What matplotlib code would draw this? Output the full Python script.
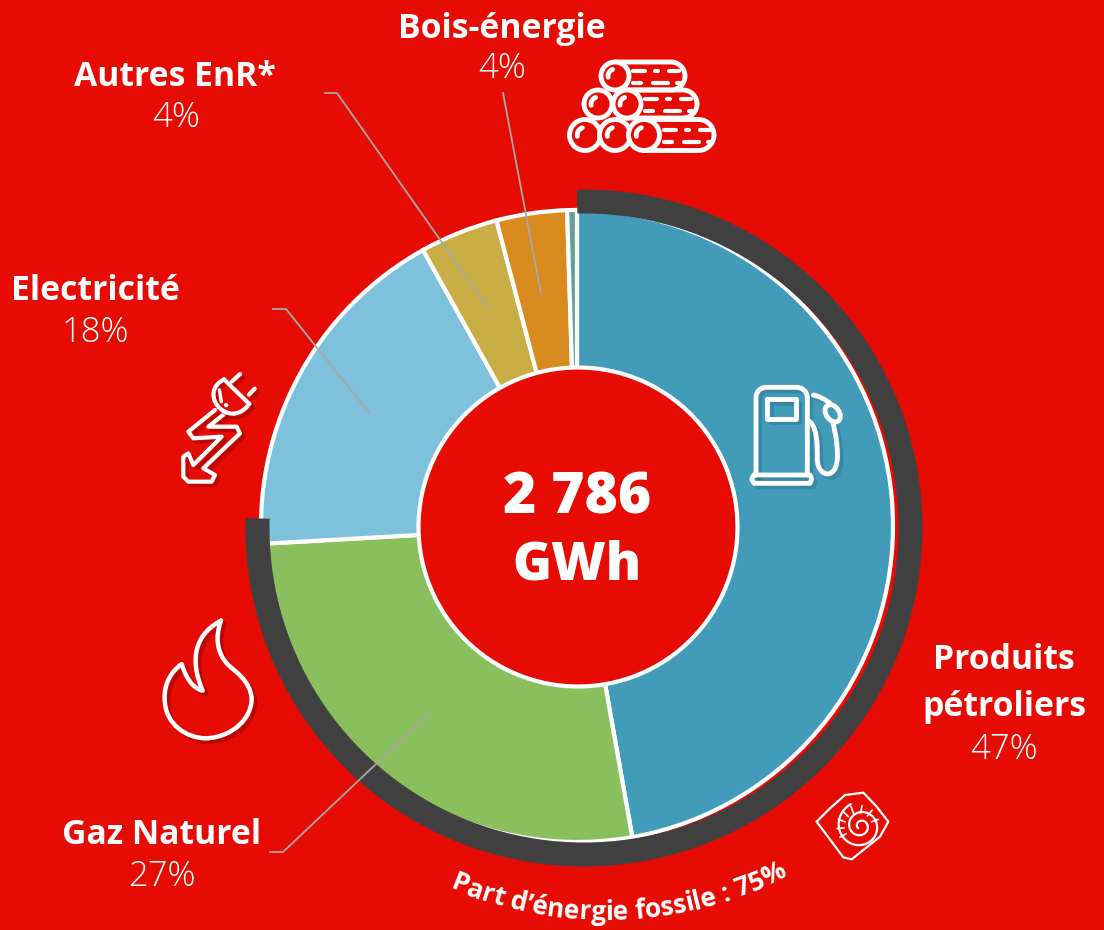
import numpy as np
import matplotlib
matplotlib.use("Agg")
import matplotlib.pyplot as plt
import matplotlib.patheffects as pe
from matplotlib.patches import Wedge, Circle, PathPatch, Ellipse
from matplotlib.path import Path

# Parts (%)
categories = ["Produits pétroliers", "Gaz Naturel", "Electricité", "Autres EnR*", "Bois-énergie", "Autres"]
valeurs = [47.2, 26.9, 17.8, 4.0, 3.6, 0.5]
couleurs = ["#419BB9", "#8ABF5E", "#7DC1DC", "#C8AE44", "#D98B1F", "#6A9E9E"]
part_fossile = 75.8
total = "2 786\nGWh"

ROUGE = "#E60C04"
GRIS = "#404040"
BLANC = "white"
H = 930

plt.rcParams['font.family'] = ['Open Sans', 'DejaVu Sans']

fig = plt.figure(figsize=(11.04, 9.30), dpi=100, facecolor=ROUGE)
ax = fig.add_axes([0, 0, 1, 1])


def Y(y):
    return H - y


#---Donut------------
ax.pie(valeurs, colors=couleurs, startangle=90, counterclock=False,
       center=(577, Y(526)), radius=316, frame=True,
       wedgeprops=dict(edgecolor=BLANC, linewidth=3))
ax.add_patch(Circle((578, Y(527)), 159.5, facecolor=ROUGE, edgecolor=BLANC, linewidth=3, zorder=3))
ax.set_xlim(0, 1104)
ax.set_ylim(0, H)
ax.set_aspect('equal')
ax.axis('off')

# Arc de la part fossile
fin = 91.2 + 360
ax.add_patch(Wedge((584, Y(528)), 338.5, fin - 3.6 * part_fossile, fin, width=24,
                   facecolor=GRIS, edgecolor='none', zorder=4))

#---Lignes de rappel------------
for xs, ys in [([503, 541], [93, 294]),
               ([325, 337, 488], [93, 93, 308]),
               ([273, 286, 370], [309, 309, 414]),
               ([270, 283, 430], [852, 852, 713])]:
    ax.plot(xs, [Y(v) for v in ys], color="#A8A8A8", linewidth=1.3, zorder=5)

#---Textes------------
for x, y, txt in [(502, 29, "Bois-énergie"), (175, 77, "Autres EnR*"), (95, 291, "Electricité"),
                  (1004, 660, "Produits"), (1004, 707, "pétroliers"), (162, 835, "Gaz Naturel")]:
    ax.text(x, Y(y), txt, color=BLANC, fontsize=24.3, fontweight='bold', ha='center', va='center', zorder=6)
for x, y, txt in [(502, 69, "4%"), (176, 118, "4%"), (95, 333, "18%"), (1004, 750, "47%"), (162, 877, "27%")]:
    ax.text(x, Y(y), txt, color=BLANC, fontsize=25, fontweight='light', ha='center', va='center', zorder=6)
lignes = total.split("\n")
ax.text(577, Y(499), lignes[0], color=BLANC, fontsize=41, fontweight='heavy', ha='center', va='center', zorder=6)
ax.text(577, Y(566), lignes[1], color=BLANC, fontsize=38, fontweight='heavy', ha='center', va='center', zorder=6)

# Texte courbe, lettre par lettre
texte = "Part d’énergie fossile : 75%"
taille = 19
rend = fig.canvas.get_renderer()
largeurs = []
for i in range(len(texte)):
    t = ax.text(0, 0, texte[:i + 1] + "|", fontsize=taille, fontweight='bold')
    largeurs.append(t.get_window_extent(rend).width)
    t.remove()
t = ax.text(0, 0, "|", fontsize=taille, fontweight='bold')
barre = t.get_window_extent(rend).width
t.remove()
fins = np.array(largeurs) - barre
debuts = np.concatenate(([0], fins[:-1]))
cx, cy, r = 605, Y(524), 396
milieu = fins[-1] / 2
for c, d, f in zip(texte, debuts, fins):
    a = ((d + f) / 2 - milieu) / r + 0.038
    ax.text(cx + r * np.sin(a), cy - r * np.cos(a), c, color=BLANC, fontsize=taille, fontweight='bold',
            rotation=np.degrees(a), rotation_mode='anchor', ha='center', va='baseline', zorder=6)

#---Icônes------------
ombre = [pe.SimpleLineShadow(offset=(2.5, -2.5), shadow_color="#8A0000", alpha=0.45), pe.Normal()]


def trait(xs, ys, lw=3, effets=None, z=7):
    ax.plot(xs, [Y(v) for v in ys], color=BLANC, linewidth=lw, solid_capstyle='round',
            solid_joinstyle='round', path_effects=effets, zorder=z)


def courbe(points, lw=3, effets=None, z=7):
    # points : premier point puis triplets de controle (bezier cubique)
    codes = [Path.MOVETO] + [Path.CURVE4] * (len(points) - 1)
    sommets = [(x, Y(y)) for x, y in points]
    p = PathPatch(Path(sommets, codes), facecolor='none', edgecolor=BLANC, linewidth=lw,
                  capstyle='round', joinstyle='round', zorder=z)
    if effets:
        p.set_path_effects(effets)
    ax.add_patch(p)


# Bûches
for yc, r_b, xs_c, x_fin in [(76, 14, [615], 685), (104, 14, [598, 627], 697), (135, 15.5, [585, 615, 644], 714)]:
    a = np.linspace(np.pi / 2, -np.pi / 2, 30)
    xb = [xs_c[-1]] + list(x_fin - r_b + r_b * np.cos(a)) + [xs_c[-1]]
    yb = [yc - r_b] + list(yc - r_b * np.sin(a)) + [yc + r_b]
    trait(xb, yb, lw=3.5)
    for xc in xs_c:
        ax.add_patch(Circle((xc, Y(yc)), r_b, facecolor=ROUGE, edgecolor=BLANC, linewidth=3.5, zorder=8))
        a2 = np.linspace(np.radians(110), np.radians(190), 10)
        trait(xc + r_b * 0.5 * np.cos(a2), yc - r_b * 0.5 * np.sin(a2), lw=3.5, z=9)
    x0 = xs_c[-1] + r_b + 4
    trait([x0, x0 + 12], [yc - 5, yc - 5], z=7)
    trait([x0 + 22, x0 + 25], [yc - 5, yc - 5], z=7)
    trait([x0 + 36, x0 + 46], [yc - 5, yc - 5], z=7)
    trait([x0, x0 + 8], [yc + 7, yc + 7], z=7)
    trait([x0 + 20, x0 + 35], [yc + 7, yc + 7], z=7)
    trait([x0 + 44, x0 + 47], [yc + 7, yc + 7], z=7)

# Prise électrique
X = lambda v: 150 + np.array(v) / 3
Z = lambda v: 360 + np.array(v) / 3
trait(X([195, 115, 130, 215, 130, 115, 100, 100, 115, 185, 195, 160, 270, 260, 175, 225]),
      Z([150, 215, 235, 230, 315, 280, 290, 350, 365, 365, 345, 325, 220, 200, 200, 160]), effets=ombre)
courbe([(X(222), Z(58)), (X(170), Z(85)), (X(190), Z(140)), (X(225), Z(155)),
        (X(255), Z(170)), (X(280), Z(155)), (X(298), Z(132))], effets=ombre)
trait(X([222, 298]), Z([58, 132]), effets=ombre)
trait(X([245, 270]), Z([65, 42]), effets=ombre)
trait(X([297, 314]), Z([104, 86]), effets=ombre)
trait(X([208, 214]), Z([90, 125]), lw=2.5)
trait(X([228, 229]), Z([135, 136]), lw=3)

# Flamme
courbe([(X(213), Z(782)), (X(150), Z(815)), (X(110), Z(880)), (X(158), Z(992)),
        (X(125), Z(985)), (X(105), Z(945)), (X(95), Z(912)),
        (X(50), Z(945)), (X(40), Z(990)), (X(45), Z(1030)),
        (X(50), Z(1090)), (X(105), Z(1135)), (X(170), Z(1135)),
        (X(250), Z(1130)), (X(305), Z(1075)), (X(305), Z(1015)),
        (X(300), Z(960)), (X(255), Z(935)), (X(235), Z(915)),
        (X(200), Z(880)), (X(195), Z(830)), (X(213), Z(782))], lw=3.2, effets=ombre)

# Pompe à essence
X = lambda v: 730 + np.array(v) / 3
Z = lambda v: 370 + np.array(v) / 3
sombre = [pe.SimpleLineShadow(offset=(2.5, -2.5), shadow_color="#1F5F78", alpha=0.3), pe.Normal()]
courbe([(X(78), Z(315)), (X(78), Z(220)), (X(78), Z(150)), (X(78), Z(85)),
        (X(78), Z(65)), (X(90), Z(52)), (X(110), Z(52)),
        (X(150), Z(52)), (X(170), Z(52)), (X(198), Z(52)),
        (X(218), Z(52)), (X(232), Z(65)), (X(232), Z(85)),
        (X(232), Z(150)), (X(232), Z(220)), (X(232), Z(315))], lw=3.5, effets=sombre)
trait(X([72, 240, 245, 240, 72, 65, 72]), Z([315, 315, 327, 340, 340, 327, 315]), lw=3.5, effets=sombre)
trait(X([112, 198, 198, 112, 112]), Z([88, 88, 146, 146, 88]), lw=3.5, effets=sombre)
courbe([(X(232), Z(150)), (X(262), Z(165)), (X(262), Z(220)), (X(262), Z(265)),
        (X(262), Z(300)), (X(280), Z(312)), (X(295), Z(312)),
        (X(325), Z(305)), (X(325), Z(260)), (X(320), Z(220)),
        (X(318), Z(195)), (X(312), Z(175)), (X(310), Z(160))], lw=3.5, effets=sombre)
courbe([(X(250), Z(75)), (X(270), Z(80)), (X(285), Z(88)), (X(300), Z(100))], lw=3.5, effets=sombre)
ax.add_patch(Ellipse((X(308), Y(Z(130))), 13, 19, angle=35, facecolor='none', edgecolor=BLANC, linewidth=3.5, zorder=7))

# Fossile
X = lambda v: 430 + np.array(v) / 3
Z = lambda v: 770 + np.array(v) / 3
trait(X([1160, 1200, 1245, 1300, 1340, 1375, 1350, 1265, 1240, 1160]),
      Z([155, 115, 75, 68, 110, 155, 200, 268, 262, 155]), lw=1.6)
a = np.linspace(0, 4.6 * np.pi, 120)
rs = 10 + 62 * (a / a[-1]) ** 1.3
trait(X(1292 + rs * np.cos(a + 2.4)), Z(168 + rs * np.sin(a + 2.4)), lw=1.6)
for ang in np.radians([150, 175, 200, 225, 250, 280, 310, 340]):
    trait(X(1285 + np.array([42, 64]) * np.cos(ang)), Z(170 + np.array([42, 64]) * np.sin(ang)), lw=1.2)

fig.savefig("out.png", dpi=100, facecolor=ROUGE)
